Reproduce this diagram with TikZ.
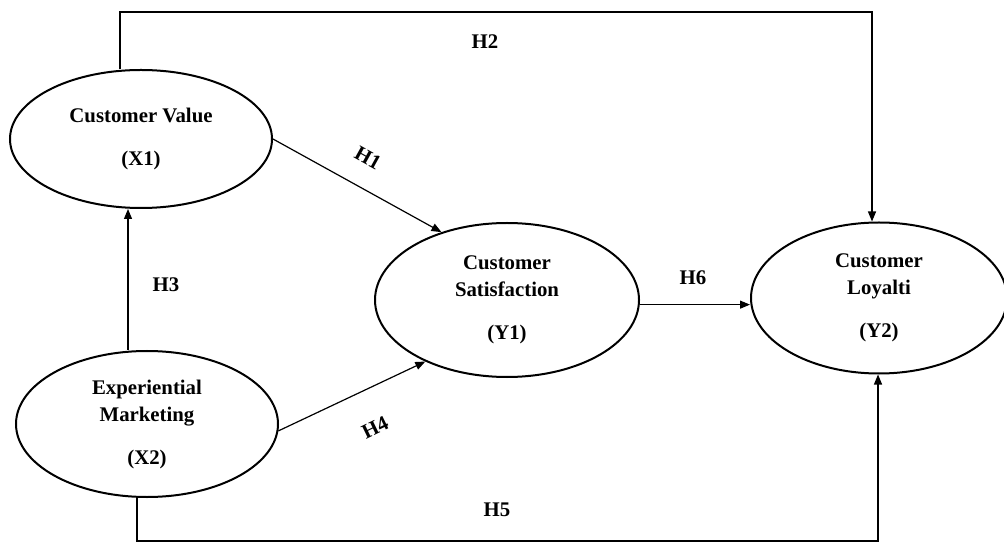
\documentclass[tikz,border=0pt]{standalone}
\usepackage{fontspec}
\setmainfont{Liberation Serif}
\usetikzlibrary{shapes.geometric,arrows.meta}
\begin{document}
\begin{tikzpicture}[x=0.5pt,y=-0.5pt,
  latent/.style={draw,ellipse,line width=1pt,inner sep=0pt,align=center,
    font=\fontsize{10.4}{13.5}\selectfont\bfseries},
  link/.style={line width=0.6pt},
  path/.style={link,-{Triangle[length=5pt,width=4pt]}},
  hyp/.style={font=\fontsize{10.4}{13.5}\selectfont\bfseries}]
  \useasboundingbox (0,0) rectangle (1004,544);
  % constructs
  \node[latent,minimum width=131pt,minimum height=69pt] (cv) at (141,139)
    {Customer Value\\[8pt](X1)};
  \node[latent,minimum width=131pt,minimum height=73pt] (em) at (147,424)
    {Experiential\\Marketing\\[8pt](X2)};
  \node[latent,minimum width=132pt,minimum height=77pt] (cs) at (507,300)
    {Customer\\Satisfaction\\[8pt](Y1)};
  \node[latent,minimum width=128pt,minimum height=75.5pt] (cl) at (879,298)
    {Customer\\Loyalti\\[8pt](Y2)};
  % paths
  \draw[path] (cv.east) -- (cs.134);
  \draw[path] (cv.north -| 120,0) |- (872,12) -- (cl.north -| 872,0);
  \draw[path] (em.north -| 128,0) -- (cv.south -| 128,0);
  \draw[path] (em.-3) -- (cs.217);
  \draw[path] (em.south -| 137,0) |- (878,541) -- (cl.south -| 878,0);
  \draw[path] (cs.-2) -- (cs.-2 -| cl.west);
  % labels
  \node[hyp] (h1) at (368,158) [rotate=-29] {H1};
  \node[hyp] (h2) at (485,42) {H2};
  \node[hyp] (h3) at (166,285) {H3};
  \node[hyp] (h4) at (375,428) [rotate=26] {H4};
  \node[hyp] (h5) at (497,510) {H5};
  \node[hyp] (h6) at (693,278) {H6};
\end{tikzpicture}
\end{document}
